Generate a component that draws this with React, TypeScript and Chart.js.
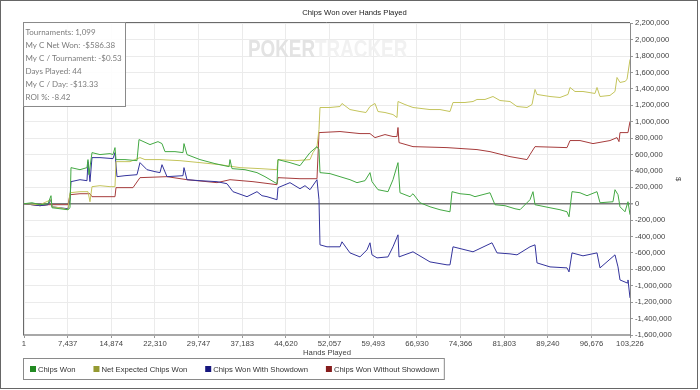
import React, { useEffect, useRef } from "react";
import { Chart, registerables } from "chart.js";

Chart.register(...registerables);

const chartTitle = "Chips Won over Hands Played";
const xTitle = "Hands Played";
const yTitle = "$";
const xTickValues = [1, 7437, 14874, 22310, 29747, 37183, 44620, 52057, 59493, 66930, 74366, 81803, 89240, 96676, 103226];
const yMin = -1600000;
const yMax = 2200000;
const yStep = 200000;

const seriesNames = ["Chips Won", "Net Expected Chips Won", "Chips Won With Showdown", "Chips Won Without Showdown"];

const chipsWonHands = [1, 1363, 2725, 4088, 4599, 4770, 6132, 7495, 7835, 8005, 9539, 10731, 10902, 11072, 11583, 12946, 14649, 15160, 15501, 15671, 17204, 19248, 19589, 21463, 22826, 23507, 24018, 25721, 27084, 27254, 27765, 29980, 32535, 34920, 35090, 35431, 37645, 39689, 41052, 43096, 43266, 45310, 47014, 48717, 49909, 50250, 50421, 52124, 53827, 55531, 56723, 58086, 58938, 59278, 60300, 62004, 62855, 63707, 64048, 65751, 66262, 67455, 69158, 70861, 72565, 72906, 74268, 75972, 76823, 79378, 80230, 81933, 83637, 84489, 86192, 86703, 87044, 89599, 91302, 92495, 92836, 93347, 94709, 95902, 97605, 98116, 100330, 100670, 101182, 101522, 102374, 102885, 103226];
const chipsWon = [0, 12000, -12000, 0, 98000, -49000, -61000, -73000, -49000, 440000, 415000, 440000, 538000, 354000, 623000, 599000, 611000, 599000, 684000, 538000, 538000, 525000, 782000, 721000, 757000, 733000, 635000, 635000, 623000, 733000, 599000, 538000, 489000, 452000, 538000, 428000, 415000, 379000, 330000, 244000, 538000, 501000, 464000, 623000, 696000, 660000, 379000, 367000, 330000, 293000, 257000, 281000, 379000, 269000, 171000, 147000, 293000, 501000, 134000, 86000, 122000, 12000, -37000, -73000, -98000, 147000, 122000, 110000, 86000, 134000, -12000, -24000, -61000, -73000, 49000, 147000, -12000, -49000, -73000, -98000, -159000, 147000, 134000, 98000, 147000, 12000, 24000, 171000, 110000, -37000, -98000, 24000, -134000];

const netExpectedHands = [1, 2725, 4599, 4770, 6132, 7495, 7835, 9539, 10902, 11242, 11583, 12946, 14649, 15501, 15671, 18056, 19759, 20611, 23166, 26573, 29980, 33387, 36793, 40200, 43096, 43266, 46162, 48717, 49228, 49909, 50250, 50421, 52124, 53827, 54168, 55531, 57234, 58256, 58938, 59789, 60300, 61493, 62855, 63536, 63707, 64899, 66262, 69158, 70861, 72565, 73076, 75120, 76483, 77164, 78527, 79889, 81082, 82785, 83977, 85681, 86533, 87044, 87384, 89599, 91302, 92665, 93006, 93857, 95220, 97264, 97605, 98116, 99819, 100670, 101012, 101522, 102374, 102715, 103226];
const netExpected = [0, -12000, 49000, -37000, -49000, -73000, 134000, 147000, 147000, 24000, 208000, 220000, 208000, 208000, 513000, 513000, 562000, 538000, 538000, 525000, 501000, 476000, 440000, 428000, 415000, 538000, 525000, 538000, 623000, 696000, 904000, 1173000, 1173000, 1185000, 1222000, 1148000, 1124000, 1112000, 1185000, 1222000, 1124000, 1112000, 1087000, 1051000, 1246000, 1209000, 1173000, 1148000, 1148000, 1124000, 1234000, 1234000, 1246000, 1271000, 1271000, 1307000, 1258000, 1246000, 1185000, 1173000, 1209000, 1393000, 1332000, 1307000, 1295000, 1332000, 1417000, 1368000, 1368000, 1344000, 1417000, 1307000, 1320000, 1368000, 1539000, 1478000, 1491000, 1515000, 1759000];

const withShowdownHands = [1, 2725, 4088, 4599, 4770, 6132, 7495, 7835, 8005, 9539, 10731, 10902, 11242, 11583, 12946, 15160, 15501, 15842, 17204, 19248, 19759, 20952, 22315, 23166, 23507, 24359, 27084, 27254, 27765, 29980, 32876, 34579, 35601, 37986, 39689, 40541, 41393, 43096, 43266, 45310, 47014, 47866, 48717, 49909, 50250, 50421, 51613, 53827, 54168, 55531, 57234, 58427, 58938, 59278, 60130, 62004, 62855, 63707, 63878, 66262, 69158, 72054, 72565, 73076, 76483, 79719, 80571, 82785, 83977, 86192, 87044, 87384, 89599, 92495, 92836, 93347, 95220, 97605, 98116, 100670, 101182, 101522, 102715, 102885, 103226];
const withShowdown = [0, -24000, -12000, 49000, -37000, -49000, -61000, 49000, 269000, 293000, 281000, 513000, 269000, 562000, 562000, 550000, 623000, 330000, 342000, 354000, 501000, 415000, 391000, 379000, 476000, 330000, 342000, 440000, 293000, 281000, 269000, 244000, 147000, 86000, 147000, 98000, 86000, 49000, 196000, 257000, 183000, 220000, 171000, 293000, 49000, -501000, -525000, -525000, -464000, -599000, -648000, -562000, -476000, -623000, -660000, -648000, -525000, -379000, -648000, -586000, -709000, -745000, -745000, -525000, -586000, -476000, -599000, -611000, -623000, -525000, -501000, -721000, -770000, -782000, -831000, -599000, -635000, -599000, -782000, -623000, -770000, -929000, -965000, -929000, -1148000];

const withoutShowdownHands = [1, 2725, 4088, 7495, 7835, 9539, 11242, 11583, 15501, 15671, 18567, 19759, 24359, 27765, 32876, 35090, 39008, 43096, 43266, 47014, 49909, 50250, 53827, 57234, 58938, 59789, 61493, 62855, 63536, 63707, 63878, 66262, 72054, 77164, 79378, 82785, 85681, 86192, 87044, 92495, 93006, 94709, 96923, 99819, 101012, 101352, 101522, 102885, 103226];
const withoutShowdown = [0, -24000, -12000, -12000, 110000, 122000, 122000, 86000, 86000, 196000, 196000, 318000, 330000, 293000, 257000, 293000, 269000, 232000, 318000, 305000, 305000, 867000, 880000, 855000, 855000, 806000, 843000, 819000, 819000, 929000, 745000, 696000, 684000, 660000, 635000, 574000, 538000, 599000, 696000, 684000, 770000, 770000, 733000, 770000, 806000, 757000, 867000, 867000, 1002000];

const lineColors = ["#43a843", "#c4c45c", "#34349c", "#a63c3c"];
const legendColors = ["#228a22", "#959a32", "#16167e", "#861c1c"];

const statsLines = [
  "Tournaments: 1,099",
  "My C Net Won: -$586.38",
  "My C / Tournament: -$0.53",
  "Days Played: 44",
  "My C / Day: -$13.33",
  "ROI %: -8.42",
];
const watermarkParts = ["POKER", "TRACKER"];

const FONT = '"Liberation Sans", Arial, sans-serif';
const fmt = (v: number) => Number(v).toLocaleString("en-US");

const decorPlugin = {
  id: "decor",
  beforeDatasetsDraw(chart: any) {
    const ctx = chart.ctx;
    ctx.save();
    ctx.translate(248, 57);
    ctx.scale(0.82, 1);
    ctx.font = `bold 23px ${FONT}`;
    ctx.textBaseline = "alphabetic";
    ctx.fillStyle = "#e3e3e3";
    ctx.fillText(watermarkParts[0], 0, 0);
    const w = ctx.measureText(watermarkParts[0]).width;
    ctx.fillStyle = "#f1f1f1";
    ctx.fillText(watermarkParts[1], w, 0);
    ctx.restore();
  },
  afterDraw(chart: any) {
    const ctx = chart.ctx;
    const a = chart.chartArea;
    ctx.save();
    // plot frame left & top
    ctx.strokeStyle = "#6a6a6a";
    ctx.lineWidth = 1;
    ctx.beginPath();
    ctx.moveTo(Math.round(a.left) - 0.5, Math.round(a.bottom));
    ctx.lineTo(Math.round(a.left) - 0.5, Math.round(a.top) - 0.5);
    ctx.lineTo(Math.round(a.right), Math.round(a.top) - 0.5);
    ctx.stroke();

    // stats box
    const bx = Math.round(a.left) - 0.5;
    const by = Math.round(a.top) - 0.5;
    ctx.fillStyle = "rgba(255,255,255,0.9)";
    ctx.fillRect(bx, by, 102, 84);
    ctx.strokeStyle = "#8a8a8a";
    ctx.strokeRect(bx, by, 102, 84);
    ctx.fillStyle = "#7c7c7c";
    ctx.font = `8px Lato, ${FONT}`;
    ctx.textBaseline = "middle";
    ctx.textAlign = "left";
    statsLines.forEach((s, i) => ctx.fillText(s, bx + 2, by + 9.5 + i * 13));

    // legend
    ctx.font = `7.7px ${FONT}`;
    let x = 30;
    const ly = 369;
    const ds = chart.data.datasets;
    ds.forEach((d: any, i: number) => {
      ctx.fillStyle = d.legendColor;
      ctx.fillRect(x, ly - 3, 6, 6);
      ctx.fillStyle = "#333";
      ctx.fillText(d.label, x + 8, ly + 0.5);
      x += 8 + ctx.measureText(d.label).width + (i < ds.length - 1 ? 18 : 5);
    });
    ctx.strokeStyle = "#8a8a8a";
    ctx.strokeRect(23.5, 358.5, x - 23.5, 21);

    // outer border
    ctx.strokeStyle = "#666";
    ctx.strokeRect(0.5, 0.5, 697, 388);
    ctx.restore();
  },
};

export default function App() {
  const ref = useRef<HTMLCanvasElement | null>(null);
  useEffect(() => {
    const canvas = ref.current;
    if (!canvas) return;
    const hands = [chipsWonHands, netExpectedHands, withShowdownHands, withoutShowdownHands];
    const values = [chipsWon, netExpected, withShowdown, withoutShowdown];
    const chart = new Chart(canvas, {
      type: "line",
      data: {
        datasets: seriesNames.map((name, i) => ({
          label: name,
          data: hands[i].map((h, j) => ({ x: h, y: values[i][j] })),
          borderColor: lineColors[i],
          backgroundColor: lineColors[i],
          legendColor: legendColors[i],
          borderWidth: 1,
          pointRadius: 0,
          tension: 0,
          fill: false,
        })) as any,
      },
      options: {
        animation: false,
        responsive: false,
        events: [],
        layout: { padding: { left: 24, right: 15, top: 0, bottom: 0 } },
        plugins: {
          legend: { display: false },
          tooltip: { enabled: false },
          title: {
            display: true,
            text: chartTitle,
            color: "#222",
            font: { family: FONT, size: 7.7, weight: "normal" },
            padding: { top: 8, bottom: 6 },
          },
        },
        scales: {
          x: {
            type: "linear",
            min: xTickValues[0],
            max: xTickValues[xTickValues.length - 1],
            afterBuildTicks: (s: any) => {
              s.ticks = xTickValues.map((v) => ({ value: v }));
            },
            afterFit: (s: any) => {
              s.height = 55;
            },
            ticks: {
              autoSkip: false,
              maxRotation: 0,
              padding: 1,
              color: "#444",
              font: { family: FONT, size: 7.7 },
              callback: (v: any) => fmt(v),
            },
            grid: { color: "#ebebeb", tickColor: "#999", tickLength: 3, drawTicks: true },
            border: { display: true, color: "#a8a8a8", width: 2 },
            title: {
              display: true,
              text: xTitle,
              color: "#444",
              font: { family: FONT, size: 7.7 },
              padding: { top: 0, bottom: 32 },
            },
          },
          y: {
            position: "right",
            min: yMin,
            max: yMax,
            afterFit: (s: any) => {
              s.width = 55;
            },
            ticks: {
              stepSize: yStep,
              padding: 2,
              color: "#444",
              font: { family: FONT, size: 7.7 },
              callback: (v: any) => fmt(v),
            },
            grid: {
              color: (c: any) => (c.tick && c.tick.value === 0 ? "#7a7a7a" : "#ebebeb"),
              lineWidth: (c: any) => (c.tick && c.tick.value === 0 ? 1.5 : 1),
              tickColor: "#999",
              tickLength: 3,
            },
            border: { display: true, color: "#8a8a8a", width: 1 },
            title: {
              display: true,
              text: yTitle,
              color: "#444",
              font: { family: FONT, size: 7.7 },
              padding: { top: 2, bottom: 0 },
            },
          },
        },
      } as any,
      plugins: [decorPlugin],
    });
    return () => chart.destroy();
  }, []);
  return (
    <div style={{ position: "absolute", left: 0, top: 0, width: 700, height: 390, background: "#fff" }}>
      <canvas ref={ref} width={700} height={390} style={{ display: "block", width: 700, height: 390 }} />
    </div>
  );
}
